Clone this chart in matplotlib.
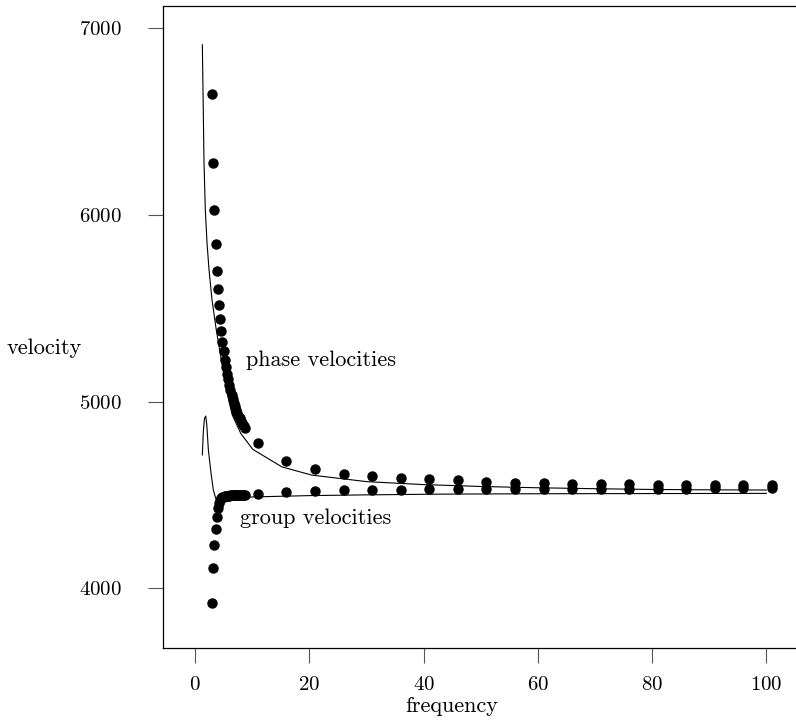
import matplotlib
matplotlib.use("Agg")
import matplotlib.pyplot as plt

plt.rcParams["font.family"] = ["cmr10", "DejaVu Serif"]
plt.rcParams["axes.formatter.use_mathtext"] = True
plt.rcParams["font.size"] = 15

# dots: observed phase / group velocities
freq_dots = [3.0, 3.2, 3.4, 3.6, 3.8, 4.0, 4.2, 4.4, 4.6, 4.8,
             5.0, 5.2, 5.4, 5.6, 5.8, 6.0, 6.2, 6.4, 6.6, 6.8,
             7.0, 7.2, 7.4, 7.6, 7.8, 8.0, 8.2, 8.4, 8.6, 8.8,
             11, 16, 21, 26, 31, 36, 41, 46, 51, 56,
             61, 66, 71, 76, 81, 86, 91, 96, 101]
phase_dots = [6650, 6280, 6025, 5845, 5702, 5605, 5520, 5445, 5380, 5320,
              5270, 5225, 5185, 5150, 5120, 5090, 5062, 5038, 5015, 4995,
              4976, 4958, 4941, 4925, 4910, 4898, 4887, 4877, 4868, 4860,
              4780, 4682, 4638, 4615, 4600, 4590, 4584, 4578, 4572, 4567,
              4563, 4560, 4558, 4557, 4556, 4555, 4554, 4553, 4553]
group_dots = [3920, 4110, 4230, 4320, 4385, 4430, 4458, 4474, 4484, 4489,
              4492, 4494, 4495, 4496, 4497, 4497, 4498, 4498, 4498, 4499,
              4499, 4499, 4499, 4500, 4500, 4500, 4500, 4501, 4501, 4501,
              4505, 4514, 4521, 4525, 4527, 4529, 4530, 4531, 4532, 4533,
              4533, 4534, 4534, 4535, 4535, 4535, 4536, 4536, 4536]

# lines: model curves
freq_phase_line = [1.28, 1.40, 1.57, 1.80, 2.10, 2.45, 2.97, 3.72, 4.60, 5.47,
                   5.89, 6.5, 8.0, 10.1, 15.2, 20.4, 30, 40, 50, 60, 70, 80, 90, 100]
phase_line = [6911, 6652, 6277, 6027, 5848, 5705, 5545, 5384, 5223, 5080,
              5009, 4930, 4830, 4745, 4651, 4607, 4572, 4556, 4546, 4539, 4534, 4530, 4528, 4527]
freq_group_line = [1.28, 1.45, 1.65, 1.87, 2.05, 2.33, 2.8, 3.2, 3.62, 4.5,
                   6, 10, 20, 30, 43, 60, 80, 100]
group_line = [4715, 4840, 4910, 4923, 4880, 4742, 4616, 4527, 4482, 4478,
              4483, 4490, 4497, 4501, 4505, 4507, 4508, 4509]

fig = plt.figure(figsize=(7.96, 7.2), dpi=100)
ax = fig.add_axes([0.2052, 0.1, 0.7948, 0.8917])

ax.plot(freq_phase_line, phase_line, color="black", linewidth=0.8)
ax.plot(freq_group_line, group_line, color="black", linewidth=0.8)
ax.plot(freq_dots, phase_dots, "o", color="black", markersize=6.5)
ax.plot(freq_dots, group_dots, "o", color="black", markersize=6.5)

ax.text(8.9, 5220, "phase velocities", ha="left", va="center", fontsize=16)
ax.text(7.9, 4378, "group velocities", ha="left", va="center", fontsize=16)

ax.set_xlim(-5.55, 105.2)
ax.set_ylim(3681, 7119)
ax.set_xticks([0, 20, 40, 60, 80, 100])
ax.set_yticks([4000, 5000, 6000, 7000])
ax.tick_params(direction="out", length=11, width=0.8, color="#555555")
ax.tick_params(axis="y", pad=19)
ax.tick_params(axis="x", pad=9)
ax.spines["right"].set_visible(False)
for s in ["left", "top", "bottom"]:
    ax.spines[s].set_linewidth(0.9)

ax.set_xlabel("frequency", fontsize=16, ha="center", va="center")
ax.xaxis.set_label_coords(0.455, -0.09)
ax.set_ylabel("velocity", fontsize=16, rotation=0, ha="center", va="center")
ax.yaxis.set_label_coords(-0.188, 0.467)

fig.savefig("out.png", dpi=100)
